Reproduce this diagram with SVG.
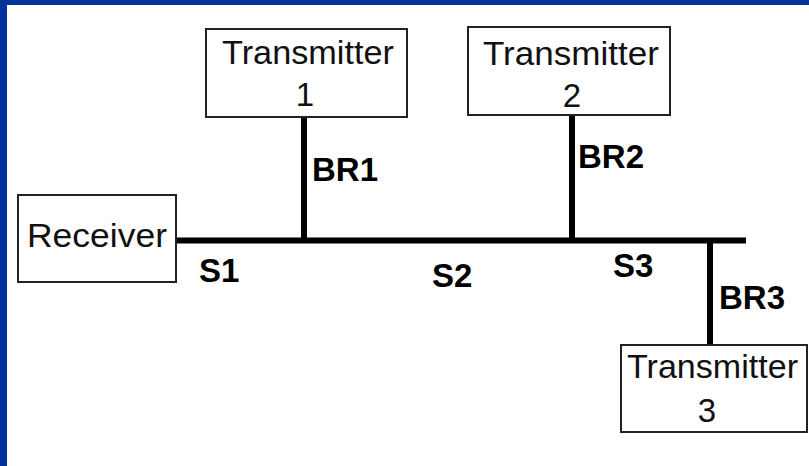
<svg xmlns="http://www.w3.org/2000/svg" width="809" height="466" viewBox="0 0 809 466">
<style>
.box{fill:#fff;stroke:#222;stroke-width:2}
.t{font-family:"Liberation Sans",Arial,sans-serif;font-size:33px;fill:#111}
.b{font-family:"Liberation Sans",Arial,sans-serif;font-size:33px;font-weight:bold;fill:#000}
.w{stroke:#000;stroke-width:6;fill:none}
</style>
<rect x="0" y="0" width="809" height="466" fill="#fff"/>
<rect x="0" y="0" width="809" height="5" fill="#003399"/>
<rect x="0" y="0" width="7" height="466" fill="#003399"/>
<g id="connectors">
<line class="w" x1="176" y1="240.5" x2="746" y2="240.5"/>
<line class="w" x1="304" y1="117" x2="304" y2="240"/>
<line class="w" x1="572" y1="115" x2="572" y2="240"/>
<line class="w" x1="710" y1="240" x2="710" y2="345"/>
<text class="b" x="199" y="282">S1</text>
<text class="b" x="432" y="287">S2</text>
<text class="b" x="613" y="277">S3</text>
<text class="b" x="312" y="181">BR1</text>
<text class="b" x="578" y="168">BR2</text>
<text class="b" x="719" y="309">BR3</text>
</g>
<g id="receiver">
<rect class="box" x="18" y="195" width="158" height="87"/>
<text class="t" x="27" y="247" textLength="140" lengthAdjust="spacingAndGlyphs">Receiver</text>
</g>
<g id="transmitter1">
<rect class="box" x="206" y="29" width="201" height="88"/>
<text class="t" x="222" y="64" textLength="172" lengthAdjust="spacingAndGlyphs">Transmitter</text>
<text class="t" x="305" y="106" text-anchor="middle">1</text>
</g>
<g id="transmitter2">
<rect class="box" x="468" y="27" width="202" height="88"/>
<text class="t" x="483" y="65" textLength="176" lengthAdjust="spacingAndGlyphs">Transmitter</text>
<text class="t" x="572" y="107" text-anchor="middle">2</text>
</g>
<g id="transmitter3">
<rect class="box" x="621" y="345" width="186" height="87"/>
<text class="t" x="627" y="378" textLength="171" lengthAdjust="spacingAndGlyphs">Transmitter</text>
<text class="t" x="707" y="422" text-anchor="middle">3</text>
</g>
</svg>
